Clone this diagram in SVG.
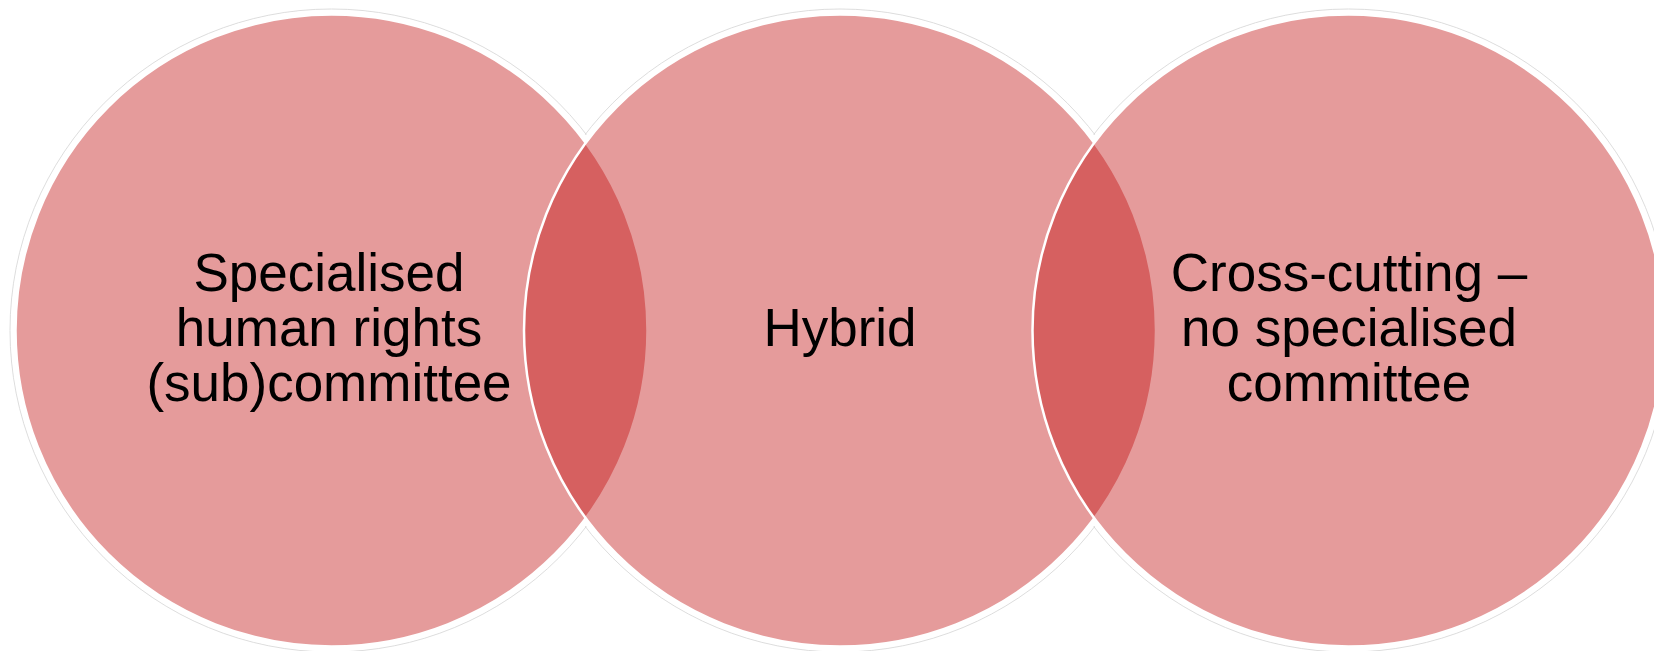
<svg xmlns="http://www.w3.org/2000/svg" width="1654" height="651" viewBox="0 0 1654 651">
  <style>
    .halo { fill: none; stroke: #d4d4d4; stroke-width: 0.8; }
    .mask { fill: #ffffff; }
    .disc { fill: rgb(192,12,12); fill-opacity: 0.41; stroke: #ffffff; stroke-width: 2.5; }
    .lbl { font-family: "Liberation Sans", Arial, sans-serif; font-size: 53px; fill: #000000; text-anchor: middle; }
  </style>
  <rect width="1654" height="651" fill="#ffffff"/>
  <g id="backdrop">
    <circle class="halo" cx="331.5" cy="330.5" r="321.5"/>
    <circle class="halo" cx="840" cy="330.5" r="321.5"/>
    <circle class="halo" cx="1348.5" cy="330.5" r="321.5"/>
    <circle class="mask" cx="331.5" cy="330.5" r="320.5"/>
    <circle class="mask" cx="840" cy="330.5" r="320.5"/>
    <circle class="mask" cx="1348.5" cy="330.5" r="320.5"/>
  </g>
  <g id="connectors"></g>
  <g id="node-specialised">
    <circle class="disc" cx="331.5" cy="330.5" r="316"/>
    <text class="lbl" x="329" y="290.5">Specialised</text>
    <text class="lbl" x="329" y="345.5">human rights</text>
    <text class="lbl" x="329" y="400.5">(sub)committee</text>
  </g>
  <g id="node-hybrid">
    <circle class="disc" cx="840" cy="330.5" r="316"/>
    <text class="lbl" x="840" y="345.5">Hybrid</text>
  </g>
  <g id="node-crosscutting">
    <circle class="disc" cx="1348.5" cy="330.5" r="316"/>
    <text class="lbl" x="1349" y="290.5">Cross-cutting –</text>
    <text class="lbl" x="1349" y="345.5">no specialised</text>
    <text class="lbl" x="1349" y="400.5">committee</text>
  </g>
</svg>
